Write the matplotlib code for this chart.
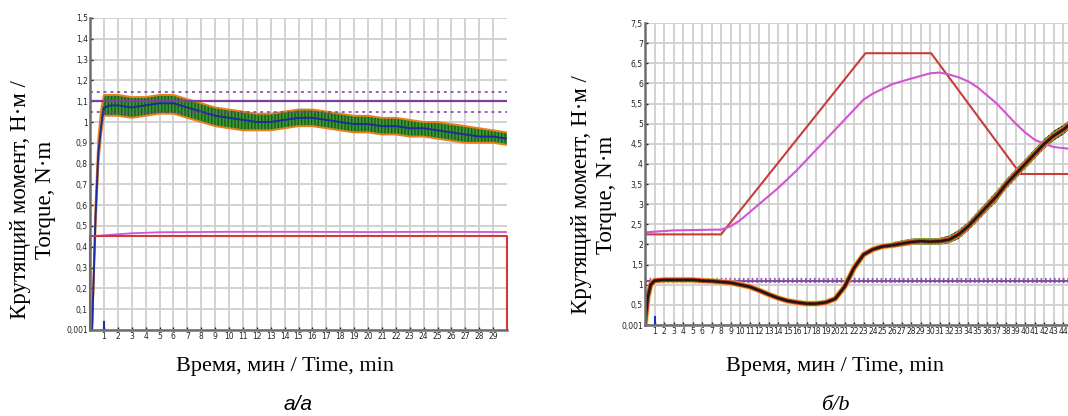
import numpy as np
import matplotlib.pyplot as plt

# ---- panel a: torque over 30 min ----
ta = [0, 0.15, 0.4, 0.6, 0.8, 1, 1.5, 2, 3, 4, 5, 6, 7, 8, 9, 10, 11, 12, 13, 14, 15,
      16, 17, 18, 19, 20, 21, 22, 23, 24, 25, 26, 27, 28, 29, 30]
mid_a = [0, 0, 0.55, 0.85, 0.98, 1.07, 1.08, 1.08, 1.07, 1.08, 1.09, 1.09, 1.07, 1.05, 1.03,
         1.02, 1.01, 1.0, 1.0, 1.01, 1.02, 1.02, 1.01, 1.0, 0.99, 0.99, 0.98, 0.98, 0.97,
         0.97, 0.96, 0.95, 0.94, 0.93, 0.93, 0.92]
up_a = [0, 0, 0.6, 0.92, 1.06, 1.13, 1.13, 1.13, 1.12, 1.12, 1.13, 1.13, 1.11, 1.09, 1.07,
        1.06, 1.05, 1.04, 1.04, 1.05, 1.06, 1.06, 1.05, 1.04, 1.03, 1.03, 1.02, 1.02, 1.01,
        1.0, 1.0, 0.99, 0.98, 0.97, 0.96, 0.95]
lo_a = [0, 0, 0.5, 0.8, 0.94, 1.03, 1.03, 1.03, 1.02, 1.03, 1.04, 1.04, 1.02, 1.0, 0.98,
        0.97, 0.96, 0.96, 0.96, 0.97, 0.98, 0.98, 0.97, 0.96, 0.95, 0.95, 0.94, 0.94, 0.93,
        0.93, 0.92, 0.91, 0.9, 0.9, 0.9, 0.89]
t_mag_a = [0, 1, 2, 3, 5, 10, 15, 20, 25, 30]
mag_a = [0.45, 0.455, 0.46, 0.465, 0.47, 0.472, 0.472, 0.471, 0.472, 0.471]
red_a_t = [0, 0, 30, 30]
red_a = [0, 0.45, 0.45, 0]
set_a, tol_a_hi, tol_a_lo = 1.1, 1.145, 1.05

# ---- panel b: torque over 44 min ----
tb = [0, 0.3, 0.6, 1, 2, 3, 4, 5, 6, 7, 8, 9, 10, 11, 12, 13, 14, 15, 16, 17, 18, 19, 20,
      21, 22, 23, 24, 25, 26, 27, 28, 29, 30, 31, 32, 33, 34, 35, 36, 37, 38, 39, 40, 41,
      42, 43, 44, 44.5]
trq_b = [0, 0.7, 1.0, 1.1, 1.12, 1.12, 1.12, 1.12, 1.1, 1.09, 1.07, 1.05, 1.0, 0.95, 0.86,
         0.76, 0.67, 0.6, 0.56, 0.53, 0.53, 0.56, 0.65, 0.95, 1.42, 1.75, 1.88, 1.95, 1.98,
         2.02, 2.06, 2.08, 2.07, 2.08, 2.12, 2.25, 2.45, 2.7, 2.95, 3.2, 3.5, 3.75, 4.0,
         4.25, 4.5, 4.7, 4.85, 4.95]
# noisy part of the signal (upper / lower envelope)
t_nz = [26, 27, 28, 29, 30, 31, 32, 33, 34, 35, 36, 37, 38, 39, 40, 41, 42, 43, 44, 44.5]
nz_up = [2.05, 2.1, 2.14, 2.16, 2.15, 2.16, 2.22, 2.36, 2.56, 2.82, 3.07, 3.33, 3.62, 3.87,
         4.12, 4.37, 4.62, 4.82, 4.97, 5.06]
nz_lo = [1.92, 1.95, 1.99, 2.0, 1.99, 2.0, 2.03, 2.14, 2.34, 2.58, 2.83, 3.07, 3.38, 3.63,
         3.88, 4.13, 4.38, 4.58, 4.73, 4.83]
t_mag_b = [0, 3, 8, 9, 10, 11, 12, 14, 16, 18, 20, 22, 23, 24, 26, 28, 30, 31, 32, 33, 34,
           35, 36, 37, 38, 39, 40, 41, 42, 43, 44.5]
mag_b = [2.3, 2.35, 2.37, 2.45, 2.6, 2.8, 3.0, 3.4, 3.85, 4.35, 4.85, 5.35, 5.6, 5.75, 5.98,
         6.12, 6.25, 6.27, 6.22, 6.15, 6.05, 5.9, 5.7, 5.5, 5.25, 5.0, 4.78, 4.6, 4.5,
         4.42, 4.38]
t_red_b = [0, 8, 23.2, 30.1, 39.5, 44.5]
red_b = [2.25, 2.25, 6.75, 6.75, 3.75, 3.75]
set_b, tol_b_hi, tol_b_lo = 1.1, 1.14, 1.06

grid_c = '#cfcfcf'
purple = '#7b3f9e'
magenta = '#d254d2'
red = '#d23a3a'


def fmt(v):
    if v == 0:
        return '0,001'
    return ('%g' % v).replace('.', ',')


def style(ax, xmax, xticks, yticks):
    ax.set_xlim(0, xmax)
    ax.set_xticks(xticks)
    ax.set_xticklabels([str(t) for t in xticks])
    ax.set_yticks(yticks)
    ax.set_yticklabels([fmt(v) for v in yticks])
    ax.set_ylim(0, yticks[-1])
    ax.grid(True, color=grid_c, lw=1.3)
    ax.set_axisbelow(True)
    for s in ['top', 'right']:
        ax.spines[s].set_visible(False)
    for s in ['left', 'bottom']:
        ax.spines[s].set_color('#6e6e6e')
        ax.spines[s].set_linewidth(1.8)
    ax.tick_params(direction='in', length=2, width=1, pad=1.5, labelsize=5.5, colors='#222222')


fig = plt.figure(figsize=(10.68, 4.16), dpi=100)

# panel a
ax1 = fig.add_axes([90 / 1068, 86 / 416, 417 / 1068, 312 / 416])
style(ax1, 30, list(range(1, 30)), [round(0.1 * i, 1) for i in range(16)])
ax1.fill_between(ta, lo_a, up_a, color='#3a9a32', lw=0, hatch='|||||', edgecolor='#1f5a1a')
ax1.plot(ta, up_a, color='#e8801e', lw=1.4)
ax1.plot(ta, lo_a, color='#e8801e', lw=1.4)
ax1.plot(ta, mid_a, color='#1c2c9c', lw=1.4)
ax1.plot(t_mag_a, mag_a, color=magenta, lw=1.3)
ax1.plot(red_a_t, red_a, color=red, lw=1.5, clip_on=False)
ax1.axhline(set_a, color=purple, lw=1.6)
ax1.axhline(tol_a_hi, color=purple, lw=1.4, ls=(0, (1.5, 2)), alpha=0.8)
ax1.axhline(tol_a_lo, color=purple, lw=1.4, ls=(0, (1.5, 2)), alpha=0.8)
ax1.plot([1, 1], [0, 0.04], color='#1c2c9c', lw=1.5)

# panel b
ax2 = fig.add_axes([645 / 1068, 91 / 416, 423 / 1068, 302 / 416])
style(ax2, 44.5, list(range(1, 45)), [0.5 * i for i in range(16)])
ax2.plot(t_red_b, red_b, color='#c83c3c', lw=1.5)
ax2.plot(t_mag_b, mag_b, color=magenta, lw=1.5)
ax2.axhline(set_b, color=purple, lw=1.3)
ax2.axhline(tol_b_hi, color=purple, lw=1.6, ls=(0, (0.8, 1.2)), alpha=0.8)
ax2.axhline(tol_b_lo, color=purple, lw=1.6, ls=(0, (0.8, 1.2)), alpha=0.8)
ax2.plot(tb, trq_b, color='#e8d030', lw=4.5, alpha=0.7)
ax2.plot(tb, trq_b, color='#d8341e', lw=3.2)
ax2.fill_between(t_nz, nz_lo, nz_up, color='#2f6a2a', lw=0, hatch='|||||',
                 edgecolor='#1a1a1a')
ax2.plot(tb, trq_b, color='#1a1a1a', lw=1.8)
ax2.plot([1, 1], [0, 0.2], color='#1c2cbc', lw=1.5)

# labels
lab_kw = dict(family='Liberation Serif', fontsize=16.5, rotation=90, ha='center',
              va='center', linespacing=1.25)
ylab = 'Крутящий момент, Н·м /\nTorque, N·m'
fig.text(33 / 1068, 1 - 200 / 416, ylab, **lab_kw)
fig.text(594 / 1068, 1 - 195 / 416, ylab, **lab_kw)
xl_kw = dict(family='Liberation Serif', fontsize=16, ha='center', va='center')
fig.text(285 / 1068, 1 - 366 / 416, 'Время, мин / Time, min', **xl_kw)
fig.text(835 / 1068, 1 - 366 / 416, 'Время, мин / Time, min', **xl_kw)
fig.text(298 / 1068, 1 - 405 / 416, 'а/a', family='Liberation Sans', style='italic',
         fontsize=15, ha='center', va='center')
fig.text(835 / 1068, 1 - 405 / 416, 'б/b', family='Liberation Serif', style='italic',
         fontsize=16, ha='center', va='center')

fig.savefig('out.png', dpi=100, facecolor='white')
